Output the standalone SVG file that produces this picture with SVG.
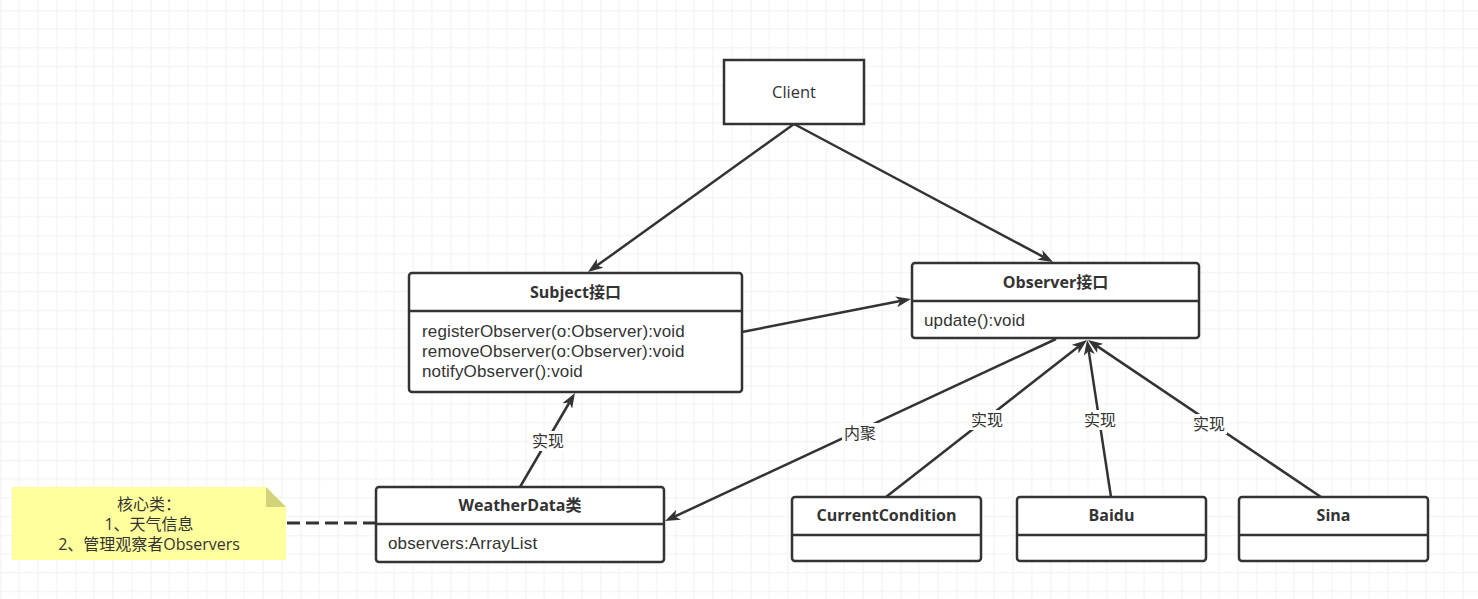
<svg xmlns="http://www.w3.org/2000/svg" width="1478" height="599" viewBox="0 0 1478 599">
<defs>
<pattern id="grid" patternUnits="userSpaceOnUse" x="0.5" y="10.3" width="75" height="75">
<path d="M18.75 0V75M37.5 0V75M56.25 0V75M0 18.75H75M0 37.5H75M0 56.25H75" stroke="#f1f1f1" stroke-width="1" fill="none"/>
<path d="M0 0V75M0 0H75" stroke="#e3e3e3" stroke-width="1" fill="none"/>
</pattern>
<marker id="arr" viewBox="0 0 15 11" refX="4" refY="5.5" markerWidth="15" markerHeight="11" markerUnits="userSpaceOnUse" orient="auto">
<path d="M0 0L15 5.5L0 11L4 5.5Z" fill="#333"/>
</marker>
</defs>
<style>
.box{fill:#fff;stroke:#333;stroke-width:2.5}
.div{stroke:#333;stroke-width:2.5}
.t{font-family:"Open Sans","Noto Sans CJK SC",sans-serif;font-size:16.5px;fill:#333}
.m{font-family:"Liberation Sans","Noto Sans CJK SC",sans-serif;font-size:17px;letter-spacing:0.15px;fill:#333}
.b{font-weight:bold;font-size:16px}
.c{text-anchor:middle}
.edge{stroke:#333;stroke-width:2.5;fill:none;marker-end:url(#arr)}
.lbg{fill:#fff}
.lbl{font-family:"Open Sans","Noto Sans CJK SC",sans-serif;font-size:16px;fill:#333;text-anchor:middle}
</style>
<rect width="1478" height="599" fill="#fff"/>
<rect width="1478" height="599" fill="url(#grid)"/>

<g id="connectors">
<line class="edge" x1="794" y1="124" x2="596.9" y2="265.6"/>
<line class="edge" x1="794" y1="124" x2="1043.3" y2="256.8"/>
<line class="edge" x1="742" y1="332" x2="900.2" y2="301.1"/>
<line class="edge" x1="520" y1="487" x2="569.4" y2="402.5"/>
<line class="edge" x1="1056" y1="339" x2="675" y2="516.4"/>
<line class="edge" x1="886" y1="497" x2="1078.3" y2="346.8"/>
<line class="edge" x1="1111" y1="497" x2="1088.7" y2="350.9"/>
<line class="edge" x1="1321" y1="497" x2="1097.1" y2="346.1"/>
<line x1="287" y1="523" x2="375" y2="523" stroke="#333" stroke-width="3" stroke-dasharray="13 6"/>
<rect class="lbg" x="530" y="431" width="36" height="20"/>
<text class="lbl" x="548" y="447">实现</text>
<rect class="lbg" x="842" y="423" width="36" height="20"/>
<text class="lbl" x="860" y="439">内聚</text>
<rect class="lbg" x="969" y="410" width="36" height="20"/>
<text class="lbl" x="987" y="426">实现</text>
<rect class="lbg" x="1082" y="410" width="36" height="20"/>
<text class="lbl" x="1100" y="426">实现</text>
<rect class="lbg" x="1191" y="414" width="36" height="20"/>
<text class="lbl" x="1209" y="430">实现</text>
</g>

<g id="client">
<rect class="box" x="724" y="60" width="140" height="64"/>
<text class="t c" x="794" y="98" font-size="15.5">Client</text>
</g>

<g id="subject">
<rect class="box" x="409" y="273" width="333" height="119" rx="3"/>
<line class="div" x1="409" y1="311" x2="742" y2="311"/>
<text class="t b c" x="575.5" y="298">Subject接口</text>
<text class="m" x="422" y="337">registerObserver(o:Observer):void</text>
<text class="m" x="422" y="357">removeObserver(o:Observer):void</text>
<text class="m" x="422" y="377">notifyObserver():void</text>
</g>

<g id="observer">
<rect class="box" x="912" y="263" width="287" height="75" rx="3"/>
<line class="div" x1="912" y1="301" x2="1199" y2="301"/>
<text class="t b c" x="1055.5" y="288">Observer接口</text>
<text class="m" x="924" y="326">update():void</text>
</g>

<g id="weatherdata">
<rect class="box" x="376" y="487" width="288" height="75" rx="3"/>
<line class="div" x1="376" y1="524" x2="664" y2="524"/>
<text class="t b c" x="520" y="511">WeatherData类</text>
<text class="m" x="388" y="549">observers:ArrayList</text>
</g>

<g id="currentcondition">
<rect class="box" x="792" y="497" width="189" height="64" rx="3"/>
<line class="div" x1="792" y1="535" x2="981" y2="535"/>
<text class="t b c" x="886.5" y="521">CurrentCondition</text>
</g>

<g id="baidu">
<rect class="box" x="1017" y="497" width="189" height="64" rx="3"/>
<line class="div" x1="1017" y1="535" x2="1206" y2="535"/>
<text class="t b c" x="1111.5" y="521">Baidu</text>
</g>

<g id="sina">
<rect class="box" x="1239" y="497" width="189" height="64" rx="3"/>
<line class="div" x1="1239" y1="535" x2="1428" y2="535"/>
<text class="t b c" x="1333.5" y="521">Sina</text>
</g>

<g id="note">
<path d="M12 487H266L286 507V560H12Z" fill="#ffff9e"/>
<path d="M266 487L286 507H266Z" fill="#d3d37a"/>
<text class="lbl" x="149" y="510">核心类：</text>
<text class="lbl" x="149" y="530">1、天气信息</text>
<text class="lbl" x="149" y="550">2、管理观察者Observers</text>
</g>
</svg>
